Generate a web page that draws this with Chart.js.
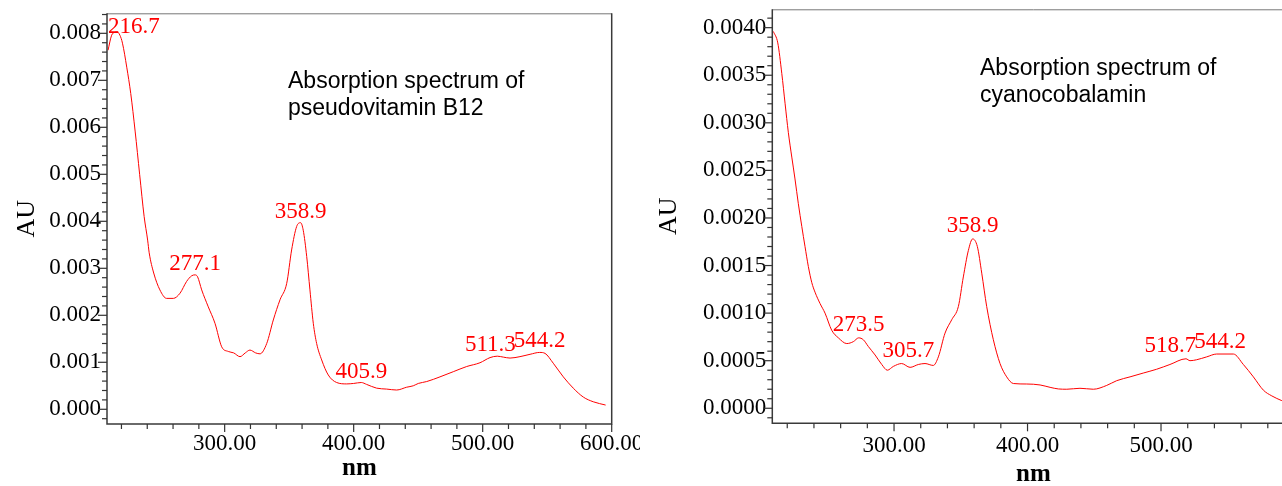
<!DOCTYPE html>
<html><head><meta charset="utf-8">
<script src="https://cdn.jsdelivr.net/npm/chart.js@4.4.1/dist/chart.umd.min.js"></script>
<style>
html,body{margin:0;padding:0;background:#fff;overflow:hidden;width:1282px;height:486px;}
.panel{position:absolute;top:0;height:486px;}
#p1{left:0;width:640px;}
#p2{left:640px;width:680px;}
.note{position:absolute;font-family:"Liberation Sans",Arial,sans-serif;font-size:23px;color:#000;line-height:27px;white-space:nowrap;}
</style></head>
<body>
<div class="panel" id="p1"><canvas id="c1" width="640" height="486"></canvas></div>
<div class="panel" id="p2"><canvas id="c2" width="680" height="486"></canvas></div>
<div class="note" style="left:288px;top:67px;">Absorption spectrum of<br>pseudovitamin B12</div>
<div class="note" style="left:980px;top:54px;">Absorption spectrum of<br>cyanocobalamin</div>
<script>
// ---- data: pseudovitamin B12 ----
const leftNm = [209.6,212.4,214.9,216.7,218.8,220.8,224.1,227.2,230.6,234.1,237.6,240.3,241.5,245,249.8,255,260.2,265.4,270.5,274.4,277.1,279,282.2,287.3,292.5,297.7,302.8,307,311.9,316,319.6,324,327.4,332.6,337.7,342.9,348.1,351.9,355.8,358.9,360.9,363.6,366.1,368.7,371.3,375.2,380.3,386.8,394.6,400,405.9,410,417.8,425.6,433.3,441.1,446.2,450.1,456.6,466.9,477.2,487.6,497.9,505.7,511.3,516,521.2,528.9,536.7,544.2,548.3,554.7,562.5,570.2,578,585.7,595.3];
const leftAU = [0.00764,0.00796,0.00802,0.00803,0.00796,0.00779,0.00728,0.00672,0.00592,0.00500,0.0041,0.0036,0.00333,0.0029,0.00254,0.00236,0.00236,0.00247,0.00272,0.00284,0.00286,0.00282,0.00254,0.00218,0.00183,0.00133,0.00123,0.0012,0.00112,0.0012,0.00126,0.0012,0.00118,0.0014,0.0019,0.00233,0.00268,0.00339,0.00389,0.00397,0.00381,0.00325,0.00254,0.00183,0.0014,0.00105,0.00073,0.00057,0.00054,0.00055,0.00057,0.00053,0.00045,0.00043,0.00041,0.00047,0.0005,0.00055,0.00059,0.00069,0.0008,0.00091,0.00099,0.0011,0.00113,0.00111,0.00109,0.00112,0.00117,0.00121,0.00119,0.00098,0.00069,0.00045,0.00026,0.00016,0.00009];
const leftPeakNm = [216.7,277.1,358.9,405.9,511.3,544.2];
const leftPeakAU = [0.00803,0.00286,0.00397,0.00057,0.00113,0.00121];
const leftYTicks = [0,0.001,0.002,0.003,0.004,0.005,0.006,0.007,0.008];
const leftXTicks = [300,400,500,600];

// ---- data: cyanocobalamin ----
const rightNm = [209.6,212.9,215.9,218.4,220.8,223.4,225.8,228.3,230.9,233.3,235.8,238.4,240.8,244.6,248.3,253.3,258.3,264.6,269.5,273.5,277,280.7,285.8,290.8,295,299.5,305.7,312,318.2,323.2,329.4,333.2,338.2,343.2,348.2,351.9,355.7,358.9,362.4,365.7,369.4,374.4,379.4,384.4,389.4,399.4,409.4,416.9,423.1,429.4,439.3,449.3,459.3,466.8,476.8,486.7,496.7,506.7,518.7,521.7,526.7,534.2,541.7,544.2,554.2,561.7,569.2,576.7,583,590.5,596];
const rightAU = [0.00396,0.00384,0.00352,0.0032,0.0029,0.00264,0.00241,0.00215,0.00191,0.0017,0.00149,0.00132,0.00122,0.0011,0.001,0.00082,0.00074,0.00068,0.0007,0.00074,0.00072,0.00065,0.00056,0.00046,0.0004,0.00044,0.00047,0.00043,0.00046,0.00047,0.00045,0.00054,0.00079,0.00093,0.00107,0.00138,0.00166,0.00178,0.0017,0.00142,0.00107,0.00072,0.00047,0.00033,0.00026,0.000255,0.000245,0.00022,0.000203,0.0002,0.00021,0.0002,0.00024,0.00029,0.00033,0.00037,0.00041,0.00046,0.00052,0.0005,0.00051,0.00054,0.00057,0.00057,0.00057,0.00046,0.00033,0.00019,0.00013,0.00008,0.00005];
const rightPeakNm = [273.5,305.7,358.9,518.7,544.2];
const rightPeakAU = [0.00074,0.00047,0.00178,0.00052,0.00057];
const rightYTicks = [0,0.0005,0.001,0.0015,0.002,0.0025,0.003,0.0035,0.004];
const rightXTicks = [300,400,500];

const SERIF = '"Liberation Serif","Times New Roman",serif';

const frameTicks = {
  id:'frameTicks',
  afterDraw(chart, args, o){
    const {ctx, chartArea:ca, scales:{x,y}} = chart;
    ctx.save();
    ctx.strokeStyle='#777'; ctx.lineWidth=1;
    ctx.beginPath(); ctx.moveTo(ca.left, ca.top+0.5); ctx.lineTo(ca.right, ca.top+0.5); ctx.stroke();
    ctx.strokeStyle='#3a3a3a'; ctx.lineWidth=1.5;
    ctx.beginPath();
    ctx.moveTo(ca.left, ca.top); ctx.lineTo(ca.left, ca.bottom); ctx.lineTo(ca.right, ca.bottom); ctx.lineTo(ca.right, ca.top);
    ctx.stroke();
    ctx.lineWidth=1.2; ctx.strokeStyle='#333';
    for(let k=Math.ceil(x.min/o.xMinor-1e-9); k*o.xMinor<=x.max+1e-9; k++){
      const v=k*o.xMinor; const px=x.getPixelForValue(v);
      const maj=Math.abs(v/o.xMajor-Math.round(v/o.xMajor))<1e-6;
      ctx.beginPath(); ctx.moveTo(px, ca.bottom); ctx.lineTo(px, ca.bottom+(maj?8:5)); ctx.stroke();
    }
    for(let k=Math.ceil(y.min/o.yMinor-1e-9); k*o.yMinor<=y.max+1e-12; k++){
      const v=k*o.yMinor; const py=y.getPixelForValue(v);
      const maj=Math.abs(v/o.yMajor-Math.round(v/o.yMajor))<1e-6;
      ctx.beginPath(); ctx.moveTo(ca.left, py); ctx.lineTo(ca.left-(maj?9:5), py); ctx.stroke();
    }
    ctx.restore();
  }
};

const peakLabels = {
  id:'peakLabels',
  afterDatasetsDraw(chart, args, o){
    const {ctx, chartArea:ca, scales:{x,y}} = chart;
    ctx.save();
    ctx.font = '23px '+SERIF; ctx.fillStyle='#ff0000'; ctx.textBaseline='alphabetic'; ctx.textAlign='left';
    const items = o.nm.map((n,i)=>{
      const text=n.toFixed(1); const w=ctx.measureText(text).width;
      const cx=x.getPixelForValue(n); const py=y.getPixelForValue(o.au[i]);
      let left=cx-w/2; if(left<ca.left+1) left=ca.left+1;
      return {text,w,left,base:Math.max(py-o.gap, ca.top+20),v:o.au[i]};
    });
    for(let i=0;i<items.length-1;i++){
      const a=items[i], b=items[i+1];
      const ov=a.left+a.w-b.left-2;
      if(ov>0){ if(a.v<b.v) a.left-=ov; else b.left+=ov; }
    }
    items.forEach(it=>ctx.fillText(it.text, it.left, it.base));
    ctx.restore();
  }
};

function makeChart(id, c){
  return new Chart(document.getElementById(id), {
    type:'line',
    data:{datasets:[{data:c.nm.map((v,i)=>({x:v,y:c.au[i]})), borderColor:'#ff0000', borderWidth:1, pointRadius:0, cubicInterpolationMode:'monotone', fill:false}]},
    options:{
      responsive:false, animation:false, devicePixelRatio:1,
      layout:{padding:{top:c.top,right:c.padRight,left:0,bottom:0}},
      plugins:{legend:{display:false}, tooltip:{enabled:false},
        frameTicks:{xMinor:20,xMajor:100,yMinor:c.yMinor,yMajor:c.yMajor},
        peakLabels:{nm:c.peakNm, au:c.peakAU, gap:c.gap}},
      scales:{
        x:{type:'linear', min:208.8, max:600, bounds:'data',
          afterBuildTicks:s=>{s.ticks=c.xTicks.map(v=>({value:v}));},
          ticks:{callback:v=>Number(v).toFixed(2), font:{family:SERIF,size:23}, color:'#000', padding:c.xPad, maxRotation:0, autoSkip:false},
          grid:{display:false, drawTicks:false}, border:{display:false},
          title:{display:true, text:'nm', color:'#000', font:{family:SERIF,size:25,weight:'bold'}, padding:{top:0,bottom:c.nmPad}},
          afterFit:s=>{s.height=c.xH; s.paddingLeft=0; s.paddingRight=0;}
        },
        y:{type:'linear', min:c.ymin, max:c.ymax, bounds:'data',
          afterBuildTicks:s=>{s.ticks=c.yTicks.map(v=>({value:v}));},
          ticks:{callback:v=>Number(v).toFixed(c.dec), font:{family:SERIF,size:23}, color:'#000', padding:6, autoSkip:false},
          grid:{display:false, drawTicks:false}, border:{display:false},
          title:{display:true, text:'AU', color:'#000', font:{family:SERIF,size:26}, padding:{top:c.auPad,bottom:0}},
          afterFit:s=>{s.width=c.yW; s.paddingTop=0; s.paddingBottom=0;}
        }
      }
    },
    plugins:[frameTicks, peakLabels]
  });
}

makeChart('c1', {nm:leftNm, au:leftAU, peakNm:leftPeakNm, peakAU:leftPeakAU, yTicks:leftYTicks, xTicks:leftXTicks, dec:3,
  ymin:-0.000313, ymax:0.008426, yMinor:0.0002, yMajor:0.001, top:13.3, padRight:28.3, yW:107, xH:62, xPad:6, nmPad:2, auPad:12, gap:5});
makeChart('c2', {nm:rightNm, au:rightAU, peakNm:rightPeakNm, peakAU:rightPeakAU, yTicks:rightYTicks, xTicks:rightXTicks, dec:4,
  ymin:-0.000158, ymax:0.004193, yMinor:0.0001, yMajor:0.0005, top:9.3, padRight:25.5, yW:132.3, xH:62.7, xPad:8.5, nmPad:-4, auPad:13.5, gap:6.5});
</script>
</body></html>
